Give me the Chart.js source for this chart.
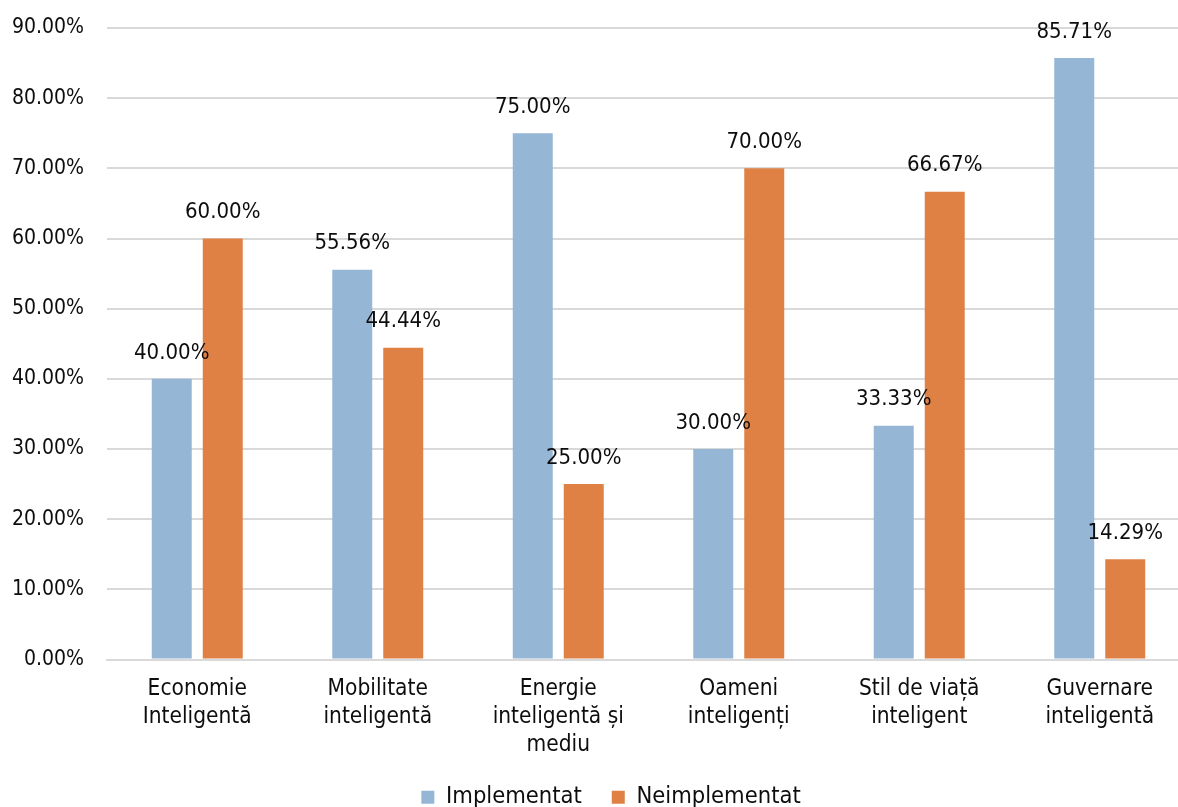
<!DOCTYPE html>
<html>
<head>
<meta charset="utf-8">
<script src="https://cdn.jsdelivr.net/npm/chart.js@4"></script>
<style>
html,body{margin:0;padding:0;background:#fff;overflow:hidden;}
#wrap{width:1192px;height:819px;}
</style>
</head>
<body>
<div id="wrap"><canvas id="c" width="1192" height="819"></canvas></div>
<script>
const categories = [
  ["Economie","Inteligentă"],
  ["Mobilitate","inteligentă"],
  ["Energie","inteligentă și","mediu"],
  ["Oameni","inteligenți"],
  ["Stil de viață","inteligent"],
  ["Guvernare","inteligentă"]
];
const implementat = [40.00, 55.56, 75.00, 30.00, 33.33, 85.71];
const neimplementat = [60.00, 44.44, 25.00, 70.00, 66.67, 14.29];
const seriesNames = ["Implementat", "Neimplementat"];
const yTicks = {min: 0, max: 90, step: 10};

const FONT = "'DejaVu Sans Condensed','DejaVu Sans',sans-serif";
const TEXT = '#0d0d0d';

const valueLabels = {
  id: 'valueLabels',
  afterDatasetsDraw(chart) {
    const ctx = chart.ctx;
    ctx.save();
    ctx.font = '22px ' + FONT;
    ctx.fillStyle = TEXT;
    ctx.textAlign = 'center';
    ctx.textBaseline = 'middle';
    chart.data.datasets.forEach((ds, i) => {
      const meta = chart.getDatasetMeta(i);
      meta.data.forEach((bar, j) => {
        ctx.fillText(ds.data[j].toFixed(2) + '%', bar.x, bar.y - 26);
      });
    });
    ctx.restore();
  }
};

const shiftLegend = {
  id: 'shiftLegend',
  afterLayout(chart) {
    if (chart.legend) { chart.legend.left += 16; chart.legend.right += 16; }
  }
};

new Chart(document.getElementById('c'), {
  type: 'bar',
  data: {
    labels: categories,
    datasets: [
      {label: seriesNames[0], data: implementat, backgroundColor: '#95B6D5'},
      {label: seriesNames[1], data: neimplementat, backgroundColor: '#DF8045'}
    ]
  },
  options: {
    responsive: false,
    animation: false,
    layout: {padding: {top: 28, right: 2, left: 0, bottom: 0}},
    datasets: {bar: {categoryPercentage: 0.565, barPercentage: 0.784}},
    scales: {
      x: {
        grid: {display: false, drawTicks: false},
        border: {display: true, color: '#d9d9d9', width: 2},
        ticks: {color: TEXT, font: {family: FONT, size: 22.5, lineHeight: '28px'}, padding: 16, maxRotation: 0, autoSkip: false},
        afterFit(s) { s.height = 96; }
      },
      y: {
        min: yTicks.min, max: yTicks.max,
        grid: {color: '#d9d9d9', lineWidth: 2, drawTicks: false},
        border: {display: false},
        ticks: {stepSize: yTicks.step, color: TEXT, font: {family: FONT, size: 21}, padding: 23,
          callback: v => v.toFixed(2) + '%'},
        afterFit(s) { s.width = 107; s.paddingTop = 0; s.paddingBottom = 0; }
      }
    },
    plugins: {
      legend: {
        position: 'bottom',
        labels: {color: TEXT, font: {family: FONT, size: 23.5}, boxWidth: 13, boxHeight: 13, padding: 30}
      },
      tooltip: {enabled: false}
    }
  },
  plugins: [valueLabels, shiftLegend]
});
</script>
</body>
</html>
